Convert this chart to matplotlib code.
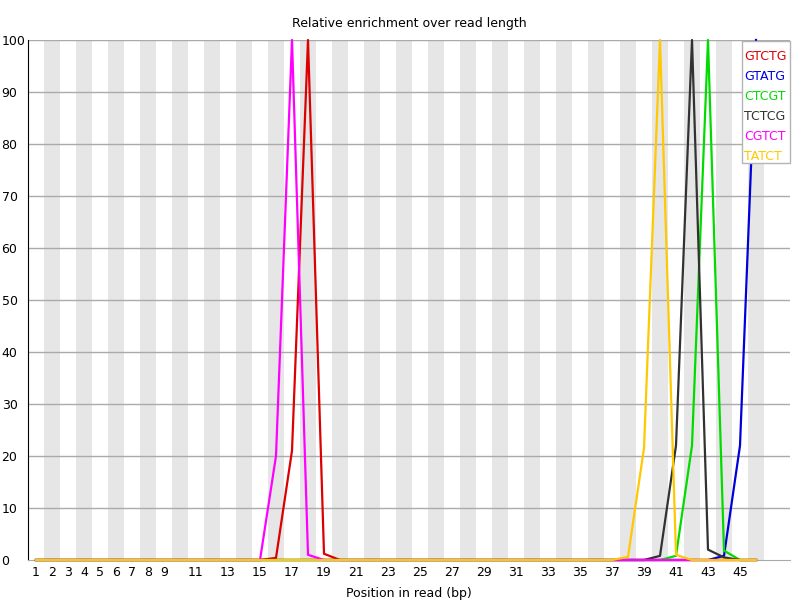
import matplotlib
matplotlib.use("Agg")
import matplotlib.pyplot as plt
from matplotlib.patches import Rectangle
import numpy as np

# positions in read (bp), one per column
positions = list(range(1, 47))

kmers = ["GTCTG", "GTATG", "CTCGT", "TCTCG", "CGTCT", "TATCT"]
colors = ["#dc0000", "#0000dc", "#00dc00", "#323232", "#ff00ff", "#ffc800"]

# non-zero values, everything else is 0
peaks = {
    "GTCTG": {16: 0.4, 17: 21.0, 18: 100.0, 19: 1.2},
    "GTATG": {44: 0.8, 45: 22.0, 46: 100.0},
    "CTCGT": {41: 0.8, 42: 22.0, 43: 100.0, 44: 1.8},
    "TCTCG": {40: 0.8, 41: 22.0, 42: 100.0, 43: 2.0, 44: 0.5},
    "CGTCT": {16: 20.0, 17: 100.0, 18: 1.0},
    "TATCT": {38: 0.6, 39: 21.5, 40: 100.0, 41: 1.0},
}

shown_labels = [1, 2, 3, 4, 5, 6, 7, 8, 9] + list(range(11, 46, 2))

W, H = 800, 600
fig = plt.figure(figsize=(8, 6), dpi=100)
ax = fig.add_axes([28 / W, 1 - 560 / H, 762 / W, 520 / H])

x = np.arange(len(positions))

# alternating grey column bands
for i in range(1, len(positions), 2):
    ax.axvspan(i - 0.5, i + 0.5, color="#e6e6e6", lw=0, zorder=0)

for v in range(10, 101, 10):
    ax.axhline(v, color="#aaaaaa", lw=1, zorder=1)

for name, col in zip(kmers, colors):
    vals = [peaks[name].get(p, 0.0) for p in positions]
    ax.plot(x, vals, color=col, lw=1.6, zorder=3, clip_on=False)

ax.set_xlim(-0.5, 47.125)
ax.set_ylim(0, 100)

ax.set_xticks([positions.index(p) for p in shown_labels])
ax.set_xticklabels([str(p) for p in shown_labels], fontsize=9)
ax.set_yticks(range(0, 101, 10))
ax.set_yticklabels([str(v) for v in range(0, 101, 10)], fontsize=9)
ax.tick_params(axis="x", length=0, pad=4)
ax.tick_params(axis="y", length=0, pad=19)
for lab in ax.get_yticklabels():
    lab.set_horizontalalignment("left")

for s in ["top", "right"]:
    ax.spines[s].set_visible(False)
ax.spines["left"].set_color("black")
ax.spines["bottom"].set_color("#aaaaaa")

ax.set_title("Relative enrichment over read length", fontsize=9, pad=9)
ax.set_xlabel("Position in read (bp)", fontsize=9, labelpad=6)

# legend box drawn by hand, like the FastQC one
fig.patches.append(Rectangle((742 / W, 1 - 163 / H), 48 / W, 122 / H,
                             transform=fig.transFigure, facecolor="white",
                             edgecolor="#b4b4b4", lw=1, zorder=10))
for k, (name, col) in enumerate(zip(kmers, colors)):
    fig.text(744 / W, 1 - (60 + 20 * k) / H, name, color=col, fontsize=9,
             ha="left", va="baseline", zorder=11)

fig.savefig("out.png", dpi=100)
